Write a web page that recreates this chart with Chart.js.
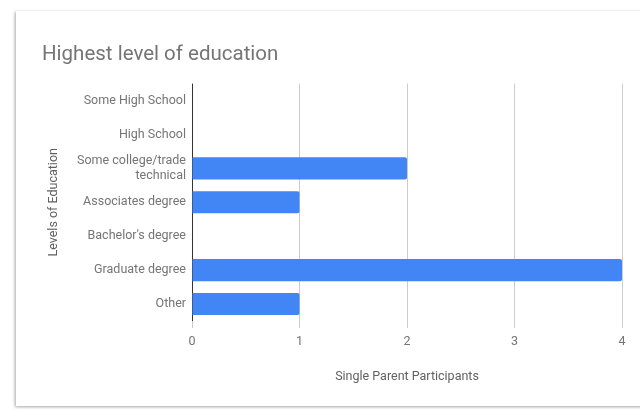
<!DOCTYPE html>
<html>
<head>
<meta charset="utf-8">
<script src="https://cdn.jsdelivr.net/npm/chart.js@4"></script>
<style>
  body { margin: 0; background: #fff; overflow: hidden; }
  #card { position: absolute; left: 16px; top: 11px; width: 700px; height: 395px;
          background: #fff; box-shadow: -1px 1px 3px rgba(0,0,0,0.35); }
  #wrap { position: absolute; left: 0; top: 0; width: 640px; height: 409px; }
</style>
</head>
<body>
<div id="card"></div>
<div id="wrap"><canvas id="chart" width="640" height="409"></canvas></div>
<script>
const categories = [
  "Some High School",
  "High School",
  ["Some college/trade", "technical"],
  "Associates degree",
  "Bachelor's degree",
  "Graduate degree",
  "Other"
];
const participants = [0, 0, 2, 1, 0, 4, 1];
const xTicks = [0, 1, 2, 3, 4];

const ctx = document.getElementById("chart").getContext("2d");
new Chart(ctx, {
  type: "bar",
  data: {
    labels: categories,
    datasets: [{
      label: "Single Parent Participants",
      data: participants,
      backgroundColor: "#4285f4",
      borderRadius: 2,
      borderSkipped: "start",
      categoryPercentage: 1,
      barPercentage: 0.65,
    }],
  },
  options: {
    indexAxis: "y",
    responsive: false,
    animation: false,
    layout: { padding: { left: 42, right: 18, top: 0, bottom: 25 } },
    plugins: {
      legend: { display: false },
      tooltip: { enabled: false },
      title: {
        display: true,
        text: "Highest level of education",
        align: "start",
        color: "#757575",
        font: { family: "Roboto", size: 20.5, weight: "normal" },
        padding: { top: 43, bottom: 16 },
      },
    },
    scales: {
      x: {
        min: xTicks[0],
        max: xTicks[xTicks.length - 1],
        afterFit: (scale) => { scale.height = 63; },
        ticks: {
          stepSize: 1,
          color: "#757575",
          padding: 6,
          font: { family: "Roboto", size: 12.5 },
        },
        grid: {
          color: (c) => (c.tick && c.tick.value === 0 ? "#333333" : "#cccccc"),
          tickLength: 7,
          tickColor: "#cccccc",
        },
        border: { display: false },
        title: {
          display: true,
          text: "Single Parent Participants",
          color: "#616161",
          font: { family: "Roboto", size: 12.5 },
          padding: { top: 0, bottom: 0 },
        },
      },
      y: {
        afterFit: (scale) => { scale.width = 150; },
        grid: { display: false },
        border: { display: false },
        ticks: {
          color: "#757575",
          padding: -2,
          font: { family: "Roboto", size: 12.5 },
        },
        title: {
          display: true,
          text: "Levels of Education",
          color: "#616161",
          font: { family: "Roboto", size: 12.5 },
          padding: { top: 4, bottom: 0 },
        },
      },
    },
  },
});
</script>
</body>
</html>
